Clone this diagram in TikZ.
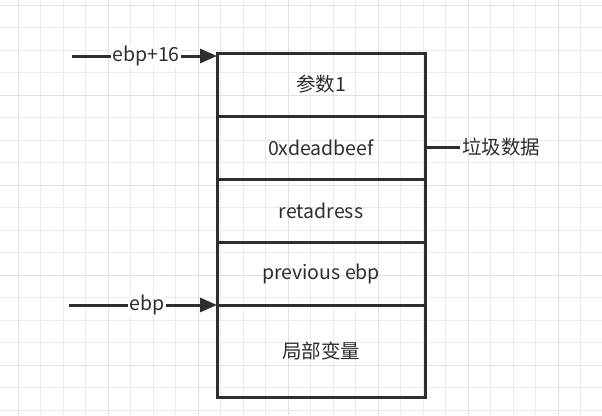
\documentclass[tikz,border=0pt]{standalone}
\usepackage{fontspec}
\setmainfont{Noto Sans CJK SC}
\usetikzlibrary{arrows.meta}
\definecolor{ink}{HTML}{2E2E2E}
\definecolor{gridminor}{HTML}{EBEBEB}
\definecolor{gridmajor}{HTML}{E0E0E0}
\tikzset{txt/.style={text=ink,font=\fontsize{19.5}{22}\selectfont}}
\begin{document}
\begin{tikzpicture}[x=1pt,y=-1pt,
  cell/.style={draw=ink,line width=3pt,minimum width=208pt,inner sep=0pt,txt},
  conn/.style={draw=ink,line width=3pt},
  tipped/.style={-{Triangle[length=17pt,width=14pt]}},
  lbl/.style={fill=white,inner sep=1.5pt,txt}]
\useasboundingbox (0,0) rectangle (602,415);
\fill[white] (0,0) rectangle (602,415);
% grid
\foreach \i in {0,...,26} {
  \pgfmathsetmacro{\xx}{18+22.5*\i}
  \draw[gridminor,line width=1pt] (\xx,0) -- (\xx,415);
}
\foreach \i in {0,...,18} {
  \pgfmathsetmacro{\yy}{5+22.5*\i}
  \draw[gridminor,line width=1pt] (0,\yy) -- (602,\yy);
}
\foreach \i in {0,...,6} {
  \pgfmathsetmacro{\xx}{18+90*\i}
  \draw[gridmajor,line width=1pt] (\xx,0) -- (\xx,415);
}
\foreach \i in {0,...,4} {
  \pgfmathsetmacro{\yy}{5+90*\i}
  \draw[gridmajor,line width=1pt] (0,\yy) -- (602,\yy);
}
% cells
\node[cell,minimum height=63pt] (c1) at (321,84.5) {参数1};
\node[cell,minimum height=63pt] (c2) at (321,147.5) {0xdeadbeef};
\node[cell,minimum height=63pt] (c3) at (321,210.5) {retadress};
\node[cell,minimum height=63pt] (c4) at (321,273.5) {previous ebp};
\node[cell,minimum height=92pt] (c5) at (321,351) {局部变量};
% connectors
\coordinate (s1) at (72,56);
\coordinate (s2) at (69,305);
\coordinate (e1) at (217,56);
\coordinate (e2) at (217,305);
\draw[conn,tipped] (s1) -- node[lbl,pos=0.51] (l1) {ebp+16} (e1);
\draw[conn,tipped] (s2) -- node[lbl,pos=0.53] (l2) {ebp} (e2);
\node[anchor=west,inner sep=2pt,txt] (junk) at (460,147.5) {垃圾数据};
\draw[conn] (c2.east) -- (junk.west);
\end{tikzpicture}
\end{document}
